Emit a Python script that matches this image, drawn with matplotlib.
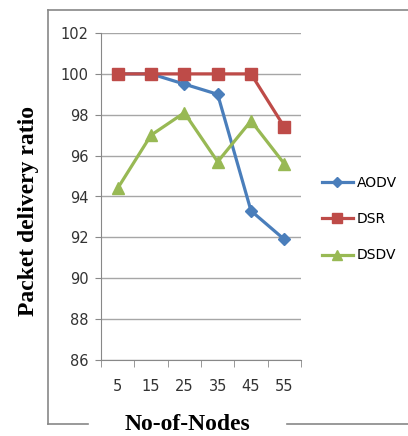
import numpy as np
import matplotlib.pyplot as plt
from matplotlib.lines import Line2D

nodes = ['5', '15', '25', '35', '45', '55']
aodv = [100, 100, 99.5, 99.0, 93.3, 91.9]
dsr = [100, 100, 100, 100, 100, 97.4]
dsdv = [94.4, 97.0, 98.1, 95.7, 97.7, 95.6]

tick_font = ['Liberation Sans Narrow', 'DejaVu Sans']
serif = ['Liberation Serif', 'DejaVu Serif']

fig = plt.figure(figsize=(4.08, 4.36), dpi=100)
ax = fig.add_axes([101 / 408, 76 / 436, 200 / 408, 327 / 436])

x = np.arange(len(nodes))
ax.plot(x, aodv, color='#4A7EBB', lw=2.3, marker='D', ms=6, label='AODV')
ax.plot(x, dsr, color='#BE4B48', lw=2.3, marker='s', ms=9, label='DSR')
ax.plot(x, dsdv, color='#98B954', lw=2.3, marker='^', ms=9, label='DSDV')

ax.set_xlim(-0.5, len(nodes) - 0.5)
ax.set_ylim(86, 102)
ax.set_yticks(np.arange(86, 103, 2))
ax.set_xticks(x)
ax.set_xticklabels(nodes, family=tick_font, fontsize=10.5, color='#333333')
ax.set_xticks(np.arange(-0.5, len(nodes)), minor=True)
ax.tick_params(axis='x', which='major', length=0, pad=14)
ax.tick_params(axis='x', which='minor', length=5, color='#888888', direction='out')
ax.tick_params(axis='y', length=4, color='#888888', pad=5)
for t in ax.get_yticklabels():
    t.set_family(tick_font)
    t.set_fontsize(10.5)
    t.set_color('#333333')

ax.grid(axis='y', color='#A6A6A6', lw=1)
ax.set_axisbelow(True)
for s in ['top', 'right']:
    ax.spines[s].set_visible(False)
for s in ['left', 'bottom']:
    ax.spines[s].set_color('#888888')

fig.text(29 / 408, 1 - 211 / 436, 'Packet delivery ratio', family=serif, fontweight='bold',
         fontsize=17, rotation=90, ha='center', va='center')
fig.text(187 / 408, 1 - 424 / 436, 'No-of-Nodes', family=serif, fontweight='bold',
         fontsize=17, ha='center', va='center')

leg = fig.legend(loc='upper left', bbox_to_anchor=(322 / 408, 1 - 176 / 436), frameon=False,
                 prop={'family': tick_font, 'size': 10}, handlelength=2.2, handletextpad=0.3,
                 labelspacing=1.6, borderpad=0, borderaxespad=0, markerscale=0.8)

# outer frame around the chart
fc = '#888888'
fig.add_artist(Line2D([48 / 408, 48 / 408], [1 - 10 / 436, 1 - 424 / 436], color=fc, lw=1.2))
fig.add_artist(Line2D([48 / 408, 1], [1 - 10 / 436, 1 - 10 / 436], color=fc, lw=1.2))
fig.add_artist(Line2D([48 / 408, 88 / 408], [1 - 424 / 436, 1 - 424 / 436], color=fc, lw=1.2))
fig.add_artist(Line2D([287 / 408, 1], [1 - 424 / 436, 1 - 424 / 436], color=fc, lw=1.2))

fig.savefig('out.png', dpi=100)
